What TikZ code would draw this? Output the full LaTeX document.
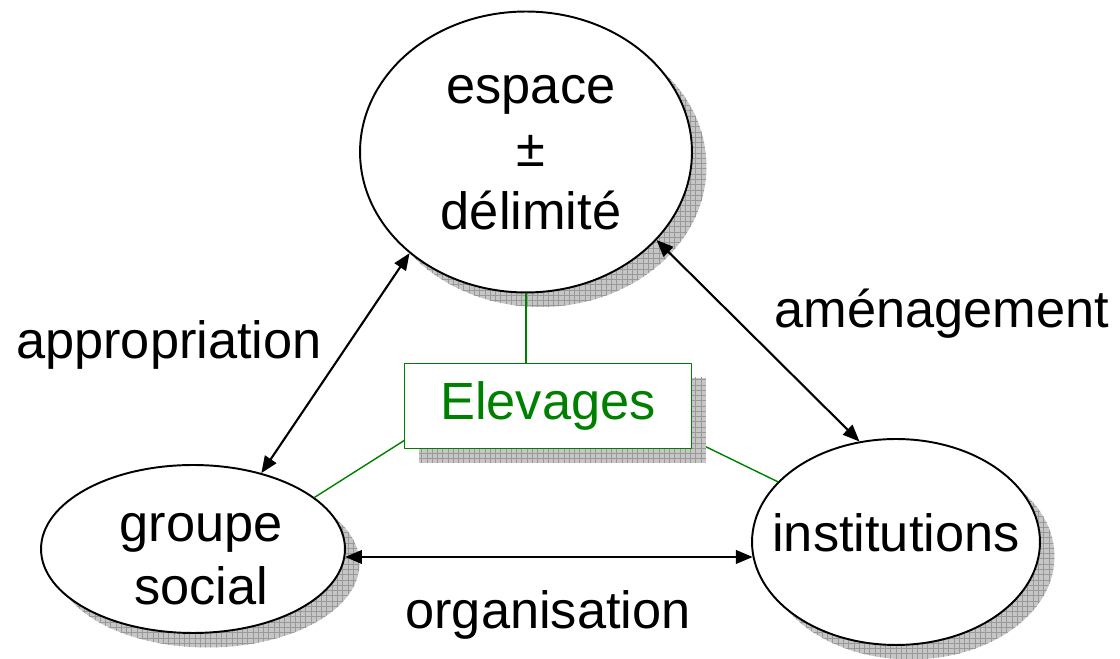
\documentclass[tikz,border=0pt]{standalone}
\usepackage{fontspec}
\setmainfont{Liberation Sans}
\usepackage{tikz}
\usetikzlibrary{arrows}
\usetikzlibrary{patterns}
\usetikzlibrary{shadows}
\usetikzlibrary{shapes.geometric}
\definecolor{elevgreen}{RGB}{0,128,0}
\tikzset{
  ombre/.style={drop shadow={shadow xshift=0.29cm,shadow yshift=-0.29cm,fill=gray!45,opacity=1,postaction={pattern=grid,pattern color=gray!80}}},
  bulle/.style={ellipse,draw=black,line width=1.1pt,fill=white,inner sep=0pt,ombre},
  lien/.style={<->,line width=1.2pt,color=black},
  trait/.style={line width=0.8pt,color=elevgreen}
}
\begin{document}
\begin{tikzpicture}[line cap=round,line join=round,>=triangle 45,x=0.02cm,y=0.02cm]
\useasboundingbox (0,0) rectangle (1120,659);
\fontsize{29.8pt}{35.9pt}\selectfont
\node[bulle,minimum width=6.64cm,minimum height=5.62cm] (espace) at (526,507) {};
\node[bulle,minimum width=6.08cm,minimum height=3.36cm] (groupe) at (193,110) {};
\node[bulle,minimum width=5.76cm,minimum height=4.12cm] (inst) at (896,117) {};
\node[align=center] (tespace) at (531,506) {espace\\±\\délimité};
\node[align=center] (tgroupe) at (201,100) {groupe\\social};
\node (tinst) at (896,126) {institutions};
% liens verts vers la boite
\draw[trait] (espace.south) -- (526,295);
\draw[trait] (groupe.23) -- (405,219);
\draw[trait] (inst.153) -- (692,219);
\node[draw=elevgreen,line width=0.8pt,fill=white,text=elevgreen,minimum width=5.74cm,minimum height=1.7cm,inner sep=0pt,ombre] (elev) at (548,253) {Elevages};
% fleches
\draw[lien] (espace.221) -- (groupe.48);
\draw[lien] (espace.326) -- (inst.110);
\draw[lien] (groupe.357) -- (groupe.357 -| inst.186);
\node (appro) at (169,314) {appropriation};
\node (amena) at (942,345) {aménagement};
\node (orga) at (548,44) {organisation};
\end{tikzpicture}
\end{document}
